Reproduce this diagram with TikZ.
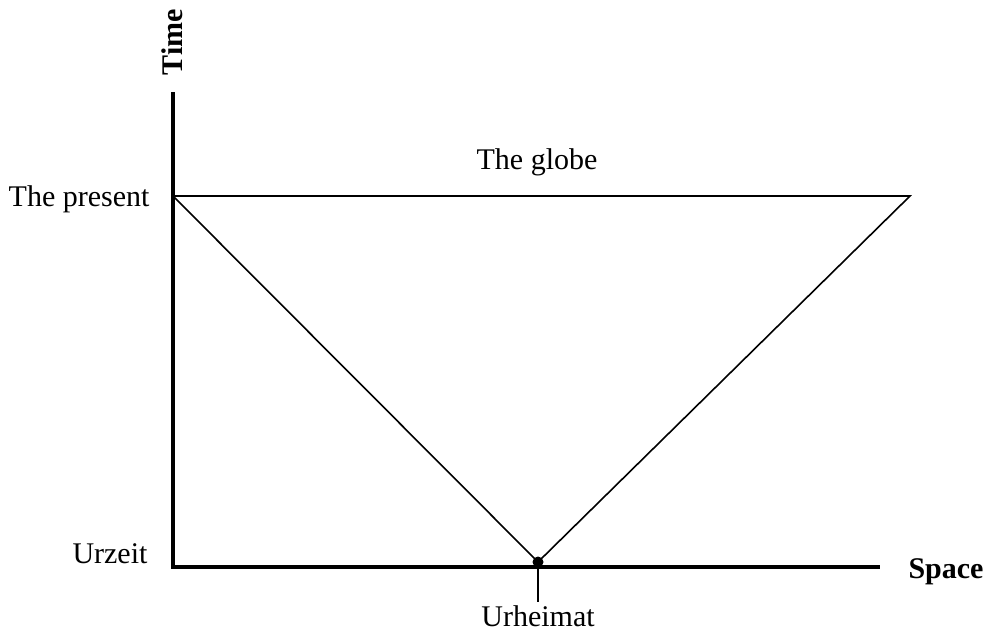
\documentclass[tikz,border=0pt]{standalone}
\usepackage{fontspec}
\setmainfont{Liberation Serif}
\usetikzlibrary{positioning}

\begin{document}
\begin{tikzpicture}[x=1pt,y=-1pt,font=\fontsize{30}{35}\selectfont,
  axis/.style={line width=3.8pt},
  thin line/.style={line width=1.6pt},
  axislabel/.style={font=\fontsize{30}{35}\selectfont\bfseries}]
  \useasboundingbox (0,0) rectangle (992,634);
  % axes
  \coordinate (O) at (173,567);
  \coordinate (ytop) at (173,92);
  \coordinate (xend) at (880,567);
  \draw[axis] (ytop)--(O)--(xend);
  \node[axislabel,rotate=90] (time) at (172,42) {Time};
  \node[axislabel,anchor=base west] (space) at (905,578) {Space};
  % cone
  \coordinate (pl) at (173,196);
  \coordinate (pr) at (910,196);
  \coordinate (apex) at (538,562);
  \draw[thin line] (pl)--(pr)--(apex)--cycle;
  \fill (apex) circle (5.5);
  \node[anchor=base east] (present) at (153,206) {The present};
  \node[anchor=base east] (urzeit) at (151,563) {Urzeit};
  \node[anchor=base] (globe) at (537,169) {The globe};
  \node[anchor=base] (urh) at (538,626) {Urheimat};
  \draw[thin line] (apex)--(urh.north);
\end{tikzpicture}
\end{document}
